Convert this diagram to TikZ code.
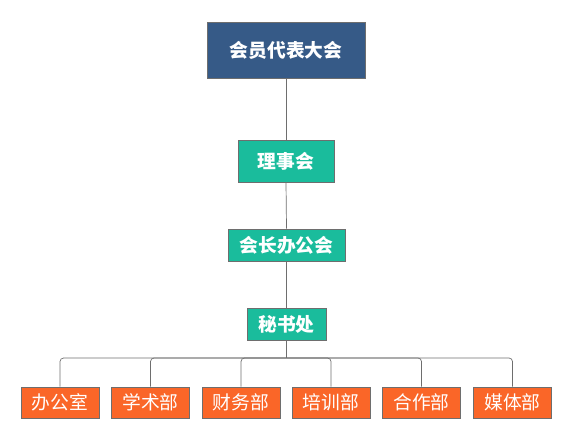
\documentclass[tikz,border=0pt]{standalone}
\usepackage{fontspec}
\newfontfamily\cjk{Noto Sans CJK SC}
\definecolor{topblue}{HTML}{365A87}
\definecolor{tealbox}{HTML}{1ABC9C}
\definecolor{deptorange}{HTML}{FA6628}
\definecolor{edgegray}{HTML}{6E6E6E}
\begin{document}
\begin{tikzpicture}[x=0.03cm,y=-0.03cm,
    box/.style={draw=edgegray,line width=0.6pt,inner sep=0pt,text=white,
      font=\cjk\fontsize{16}{19}\selectfont},
    headbox/.style={box,fill=tealbox,font=\cjk\bfseries\fontsize{16}{19}\selectfont},
    deptbox/.style={box,fill=deptorange,minimum width=2.34cm,minimum height=0.93cm},
    link/.style={draw=edgegray,line width=0.6pt}]
  \useasboundingbox (0,0) rectangle (573,439);
  % upper chain
  \node[box,fill=topblue,font=\cjk\bfseries\fontsize{16}{19}\selectfont,
    minimum width=4.74cm,minimum height=1.68cm](congress) at (286,50) {会员代表大会};
  \node[headbox,minimum width=2.88cm,minimum height=1.26cm](council) at (286,161) {理事会};
  \node[headbox,minimum width=3.51cm,minimum height=0.96cm](office) at (286.5,245) {会长办公会};
  \node[headbox,minimum width=2.37cm,minimum height=0.96cm](secretariat) at (286.5,324) {秘书处};
  \draw[link] (congress.south) -- (council.north);
  \draw[link] (council.south) -- (office.north);
  \draw[link] (office.south) -- (secretariat.north);
  % departments
  \node[deptbox](admin) at (60,402.5) {办公室};
  \node[deptbox](academic) at (150.5,402.5) {学术部};
  \node[deptbox](finance) at (241,402.5) {财务部};
  \node[deptbox](training) at (331,402.5) {培训部};
  \node[deptbox](partner) at (421.5,402.5) {合作部};
  \node[deptbox](media) at (512.5,402.5) {媒体部};
  \coordinate (bus) at (286.5,358);
  \draw[link] (secretariat.south) -- (bus);
  \foreach \dept in {admin,academic,finance,training,partner,media}
    \draw[link,rounded corners=3pt] (bus) -| (\dept.north);
\end{tikzpicture}
\end{document}
